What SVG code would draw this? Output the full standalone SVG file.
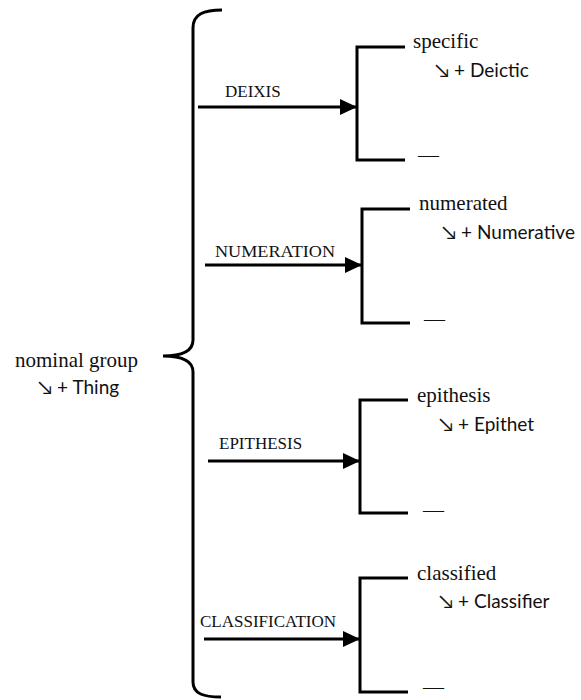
<svg xmlns="http://www.w3.org/2000/svg" width="581" height="700" viewBox="0 0 581 700">
<defs>
<style>
.ln{fill:none;stroke:#000;stroke-width:3;}
.br{fill:none;stroke:#000;stroke-width:3;stroke-linejoin:miter;}
.serif{font-family:"Liberation Serif","Times New Roman",serif;fill:#111;}
.lab{font-size:17px;}
.big{font-size:21px;}
.sans{font-family:Lato,"Open Sans","DejaVu Sans",sans-serif;font-size:19px;fill:#111;}
</style>
<marker id="ah" viewBox="0 0 17 16" refX="17" refY="8" markerWidth="17" markerHeight="16" markerUnits="userSpaceOnUse" orient="auto">
<path d="M0,0 L17,8 L0,16 z" fill="#000"/>
</marker>
</defs>
<rect width="581" height="700" fill="#fff"/>
<g id="root">
<text class="serif big" x="15" y="367">nominal group</text>
<text class="sans" x="38" y="394">↘ + Thing</text>
</g>
<g id="connectors">
<path class="br" d="M222,10 C204,10 193,14 193,28 L193,340 C193,352 180,356 163,356 C180,356 193,360 193,372 L193,682 C193,694 204,697 221,697"/>
<line class="ln" x1="198" y1="107" x2="357" y2="107" marker-end="url(#ah)"/>
<line class="ln" x1="205" y1="265" x2="362" y2="265" marker-end="url(#ah)"/>
<line class="ln" x1="208" y1="461" x2="360" y2="461" marker-end="url(#ah)"/>
<line class="ln" x1="204" y1="639" x2="360" y2="639" marker-end="url(#ah)"/>
<path class="br" d="M405,47 H357 V160 H405"/>
<path class="br" d="M410,209 H362 V323 H410"/>
<path class="br" d="M408,400 H360 V513 H408"/>
<path class="br" d="M408,578 H360 V692 H408"/>
<text class="serif lab" x="225" y="97">DEIXIS</text>
<text class="serif lab" x="215" y="257" textLength="120" lengthAdjust="spacingAndGlyphs">NUMERATION</text>
<text class="serif lab" x="219" y="449">EPITHESIS</text>
<text class="serif lab" x="200" y="627">CLASSIFICATION</text>
</g>
<g id="deixis">
<text class="serif big" x="413" y="48">specific</text>
<text class="sans" x="435" y="77">↘ + Deictic</text>
<text class="serif big" x="418" y="162">—</text>
</g>
<g id="numeration">
<text class="serif big" x="419" y="210">numerated</text>
<text class="sans" x="442" y="239">↘ + Numerative</text>
<text class="serif big" x="424" y="326">—</text>
</g>
<g id="epithesis">
<text class="serif big" x="417" y="402">epithesis</text>
<text class="sans" x="439" y="431">↘ + Epithet</text>
<text class="serif big" x="423" y="517">—</text>
</g>
<g id="classification">
<text class="serif big" x="417" y="580">classified</text>
<text class="sans" x="439" y="608">↘ + Classifier</text>
<text class="serif big" x="423" y="694">—</text>
</g>
</svg>
